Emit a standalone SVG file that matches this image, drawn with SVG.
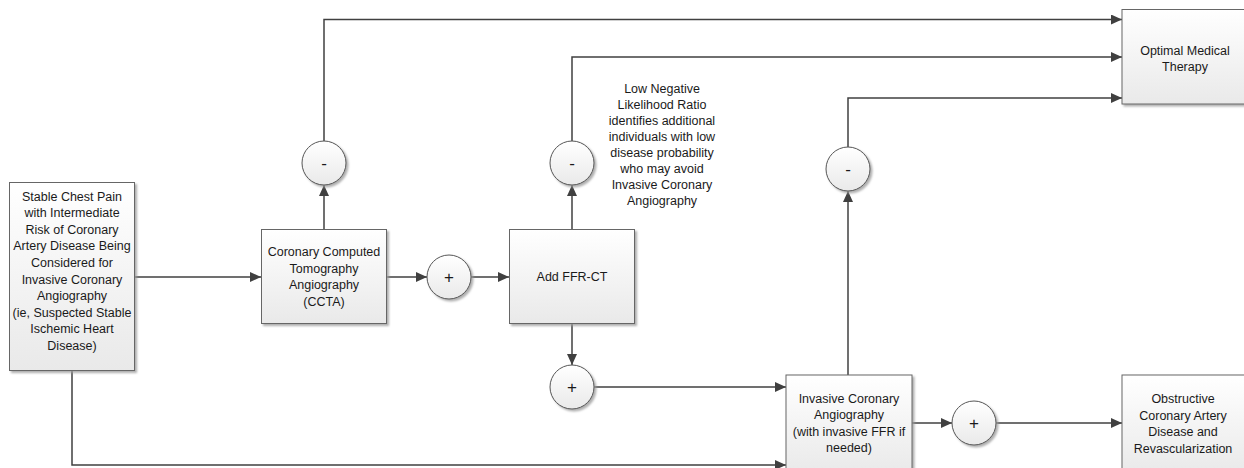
<svg xmlns="http://www.w3.org/2000/svg" width="1244" height="468" viewBox="0 0 1244 468">
<defs>
<linearGradient id="g" x1="0" y1="0" x2="0" y2="1">
<stop offset="0" stop-color="#ffffff"/>
<stop offset="1" stop-color="#e9e9e9"/>
</linearGradient>
<filter id="sh" x="-10%" y="-10%" width="130%" height="130%">
<feDropShadow dx="2" dy="2" stdDeviation="1" flood-color="#9a9a9a" flood-opacity="0.8"/>
</filter>
<marker id="ah" markerUnits="userSpaceOnUse" markerWidth="12" markerHeight="10" viewBox="0 0 12 10" refX="11" refY="5" orient="auto">
<path d="M0,0 L11,5 L0,10 z" fill="#404040"/>
</marker>
</defs>
<style>
.box{fill:url(#g);stroke:#666;stroke-width:1;filter:url(#sh)}
.c{fill:url(#g);stroke:#555;stroke-width:1;filter:url(#sh)}
.t{font-family:"Liberation Sans",Arial,sans-serif;font-size:12.5px;fill:#1a1a1a;text-anchor:middle}
.s{font-family:"Liberation Sans",Arial,sans-serif;font-size:17px;fill:#1a1a1a;text-anchor:middle}
.ln{fill:none;stroke:#404040;stroke-width:1.5}
.a{marker-end:url(#ah)}
</style>
<g id="connectors">
<path class="ln a" d="M135,277 H261"/>
<path class="ln a" d="M72,371 V465 H786"/>
<path class="ln a" d="M324,229 V185"/>
<path class="ln a" d="M324,141 V19.5 H1122"/>
<path class="ln a" d="M387,277 H427"/>
<path class="ln a" d="M471,277 H509"/>
<path class="ln a" d="M572,229 V185"/>
<path class="ln a" d="M572,141 V57 H1122"/>
<path class="ln a" d="M572,323 V365"/>
<path class="ln a" d="M594,387 H786"/>
<path class="ln a" d="M848,375 V191"/>
<path class="ln a" d="M848,147 V98 H1122"/>
<path class="ln a" d="M912,423 H952"/>
<path class="ln a" d="M996,423 H1122"/>
</g>
<g id="start">
<rect class="box" x="9.5" y="182.5" width="125" height="188"/>
<text class="t" x="72" y="200.5">Stable Chest Pain</text>
<text class="t" x="72" y="217.1">with Intermediate</text>
<text class="t" x="72" y="233.7">Risk of Coronary</text>
<text class="t" x="72" y="250.3">Artery Disease Being</text>
<text class="t" x="72" y="266.9">Considered for</text>
<text class="t" x="72" y="283.5">Invasive Coronary</text>
<text class="t" x="72" y="300.1">Angiography</text>
<text class="t" x="72" y="316.7">(ie, Suspected Stable</text>
<text class="t" x="72" y="333.3">Ischemic Heart</text>
<text class="t" x="72" y="349.9">Disease)</text>
</g>
<g id="ccta">
<rect class="box" x="261.5" y="229.5" width="125" height="94"/>
<text class="t" x="324" y="256">Coronary Computed</text>
<text class="t" x="324" y="272.5">Tomography</text>
<text class="t" x="324" y="289">Angiography</text>
<text class="t" x="324" y="305.5">(CCTA)</text>
</g>
<g id="minus1">
<circle class="c" cx="324" cy="163" r="22"/>
<text class="s" x="324" y="168.5">-</text>
</g>
<g id="plus1">
<circle class="c" cx="449" cy="277" r="22"/>
<text class="s" x="449" y="283">+</text>
</g>
<g id="ffrct">
<rect class="box" x="509.5" y="229.5" width="125" height="94"/>
<text class="t" x="572" y="280.5">Add FFR-CT</text>
</g>
<g id="minus2">
<circle class="c" cx="572" cy="163" r="22"/>
<text class="s" x="572" y="168.5">-</text>
</g>
<g id="note">
<text class="t" x="662" y="92.5">Low Negative</text>
<text class="t" x="662" y="108.5">Likelihood Ratio</text>
<text class="t" x="662" y="124.5">identifies additional</text>
<text class="t" x="662" y="140.5">individuals with low</text>
<text class="t" x="662" y="156.5">disease probability</text>
<text class="t" x="662" y="172.5">who may avoid</text>
<text class="t" x="662" y="188.5">Invasive Coronary</text>
<text class="t" x="662" y="204.5">Angiography</text>
</g>
<g id="plus2">
<circle class="c" cx="572" cy="387" r="22"/>
<text class="s" x="572" y="393">+</text>
</g>
<g id="ica">
<rect class="box" x="786" y="375" width="126" height="100"/>
<text class="t" x="849" y="402.5">Invasive Coronary</text>
<text class="t" x="849" y="419">Angiography</text>
<text class="t" x="849" y="435.5">(with invasive FFR if</text>
<text class="t" x="849" y="452">needed)</text>
</g>
<g id="minus3">
<circle class="c" cx="848" cy="169" r="22"/>
<text class="s" x="848" y="174.5">-</text>
</g>
<g id="plus3">
<circle class="c" cx="974" cy="423" r="22"/>
<text class="s" x="974" y="429">+</text>
</g>
<g id="omt">
<rect class="box" x="1122" y="9.5" width="126" height="94.5"/>
<text class="t" x="1185" y="54.5">Optimal Medical</text>
<text class="t" x="1185" y="70.5">Therapy</text>
</g>
<g id="obstructive">
<rect class="box" x="1122" y="375" width="126" height="100"/>
<text class="t" x="1183" y="403">Obstructive</text>
<text class="t" x="1183" y="419.5">Coronary Artery</text>
<text class="t" x="1183" y="436">Disease and</text>
<text class="t" x="1183" y="452.5">Revascularization</text>
</g>
</svg>
